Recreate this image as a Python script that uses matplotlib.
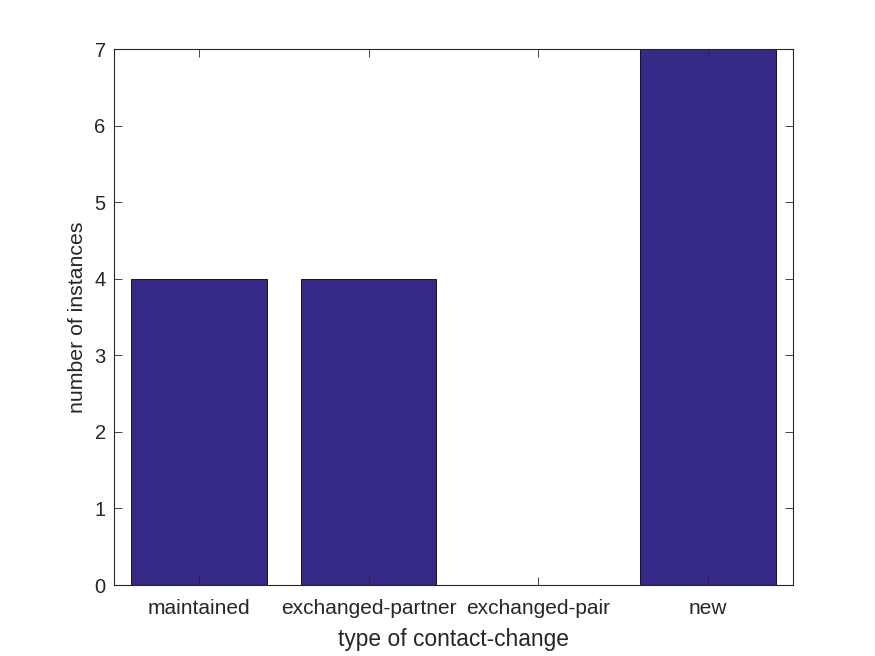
import numpy as np
import matplotlib
matplotlib.use("Agg")
import matplotlib.pyplot as plt

# Data
categories = ["maintained", "exchanged-partner", "exchanged-pair", "new"]
counts = [4, 4, 0, 7]

plt.rcParams['font.family'] = ['Liberation Sans', 'DejaVu Sans']

fig = plt.figure(figsize=(8.75, 6.56), dpi=100)
ax = fig.add_axes([0.1303, 0.1082, 0.7757, 0.8171])

x = np.arange(1, len(categories) + 1)
ax.bar(x, counts, width=0.8, color='#352A87', edgecolor='black', linewidth=0.6, zorder=1)

ax.set_xlim(0.5, 4.5)
ax.set_ylim(0, 7)
ax.set_xticks(x)
ax.set_xticklabels(categories)
ax.set_yticks(range(0, 8))

ax.tick_params(direction='in', length=6, width=0.6, colors='#262626',
               labelsize=15, top=True, right=True, pad=10)
ax.tick_params(axis='y', pad=6, labelsize=14.5)
for s in ax.spines.values():
    s.set_color('#262626')
    s.set_linewidth(0.8)
ax.set_axisbelow(False)

ax.set_xlabel("type of contact-change", fontsize=16.4, color='#262626', labelpad=7)
ax.set_ylabel("number of instances", fontsize=15.3, color='#262626', labelpad=5)

fig.savefig("out.png", dpi=100)
